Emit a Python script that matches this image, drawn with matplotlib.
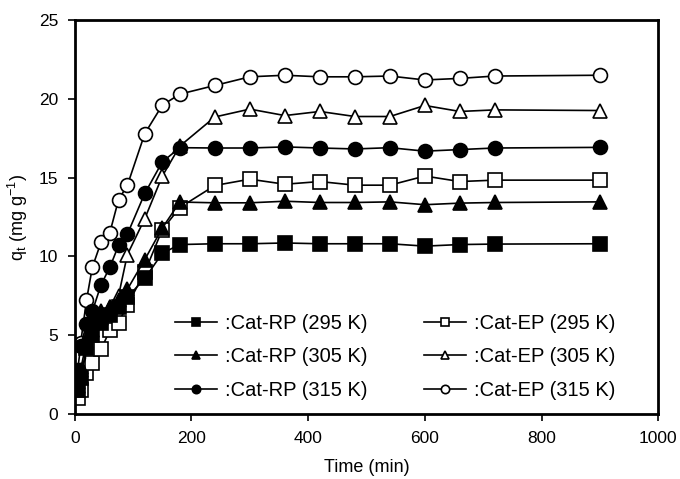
import matplotlib.pyplot as plt

plt.rcParams['font.family'] = ['Liberation Sans', 'DejaVu Sans']
plt.rcParams['mathtext.default'] = 'regular'

# contact time (min)
t = [5, 10, 20, 30, 45, 60, 75, 90, 120, 150, 180, 240, 300,
     360, 420, 480, 540, 600, 660, 720, 900]

# q_t (mg/g)
rp295 = [1.5, 2.3, 4.2, 5.0, 5.8, 6.3, 6.8, 7.4, 8.6, 10.2, 10.75, 10.8, 10.8,
         10.85, 10.8, 10.8, 10.8, 10.65, 10.75, 10.78, 10.8]
rp305 = [1.8, 2.8, 4.6, 5.8, 6.5, 6.8, 7.2, 7.9, 9.8, 11.8, 13.45, 13.4, 13.4,
         13.5, 13.42, 13.42, 13.46, 13.28, 13.38, 13.42, 13.46]
rp315 = [2.8, 4.3, 5.7, 6.5, 8.2, 9.3, 10.7, 11.4, 14.0, 16.0, 16.9, 16.88, 16.88,
         16.95, 16.88, 16.82, 16.9, 16.68, 16.78, 16.88, 16.92]
ep295 = [1.0, 1.5, 2.6, 3.2, 4.1, 5.3, 5.8, 6.9, 9.0, 11.7, 13.1, 14.5, 14.9,
         14.58, 14.75, 14.52, 14.52, 15.1, 14.75, 14.84, 14.84]
ep305 = [2.0, 3.0, 4.5, 5.3, 6.1, 6.8, 7.5, 10.1, 12.4, 15.1, 17.0, 18.85, 19.35,
         18.94, 19.2, 18.88, 18.88, 19.58, 19.2, 19.3, 19.26]
ep315 = [3.6, 4.5, 7.2, 9.3, 10.9, 11.5, 13.6, 14.5, 17.8, 19.6, 20.3, 20.85, 21.4,
         21.5, 21.4, 21.4, 21.45, 21.2, 21.3, 21.45, 21.5]

fig = plt.figure(figsize=(6.8, 4.79), dpi=100)
ax = fig.add_axes([0.110, 0.136, 0.858, 0.822])

ms = 10
kw = dict(color='black', linewidth=1.2, markeredgecolor='black', markeredgewidth=1.2, markersize=ms)
# EP drawn first so the filled RP markers sit on top, as in the original
h4, = ax.plot(t, ep295, marker='s', markerfacecolor='white', label=':Cat-EP (295 K)', **kw)
h5, = ax.plot(t, ep305, marker='^', markerfacecolor='white', label=':Cat-EP (305 K)', **kw)
h6, = ax.plot(t, ep315, marker='o', markerfacecolor='white', label=':Cat-EP (315 K)', **kw)
h1, = ax.plot(t, rp295, marker='s', markerfacecolor='black', label=':Cat-RP (295 K)', **kw)
h2, = ax.plot(t, rp305, marker='^', markerfacecolor='black', label=':Cat-RP (305 K)', **kw)
h3, = ax.plot(t, rp315, marker='o', markerfacecolor='black', label=':Cat-RP (315 K)', **kw)

ax.set_xlim(0, 1000)
ax.set_ylim(0, 25)
ax.set_xticks(range(0, 1001, 200))
ax.set_yticks(range(0, 26, 5))
ax.tick_params(direction='out', length=5, width=1.2, labelsize=12.5, pad=7)
for s in ax.spines.values():
    s.set_linewidth(2)

ax.set_xlabel('Time (min)', fontsize=13, labelpad=10)
ax.set_ylabel('q$_t$ (mg g$^{-1}$)', fontsize=13, labelpad=6)

ax.legend(handles=[h1, h2, h3, h4, h5, h6], ncol=2, frameon=False, fontsize=14.5,
          markerscale=0.6, handlelength=2.1, handletextpad=0.4,
          columnspacing=2.8, labelspacing=0.72, loc='lower left',
          bbox_to_anchor=(0.14, -0.01))

fig.savefig('out.png', dpi=100)
